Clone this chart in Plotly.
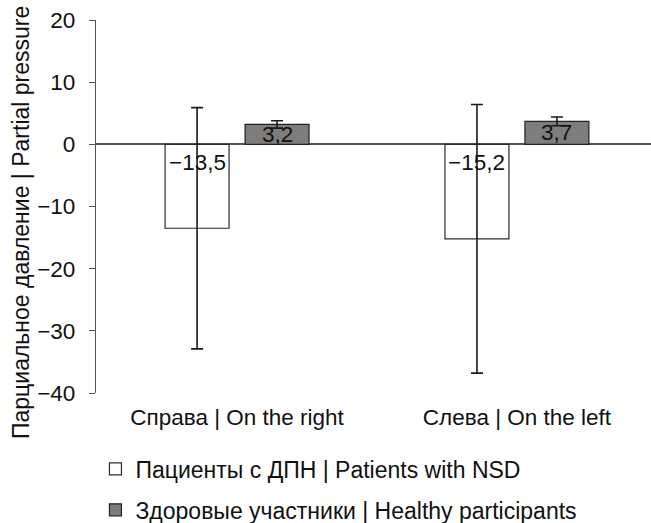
import plotly.graph_objects as go

categories = ["Справа | On the right", "Слева | On the left"]
series_names = ["Пациенты с ДПН | Patients with NSD", "Здоровые участники | Healthy participants"]
patients_values = [-13.5, -15.2]
patients_errors = [19.4, 21.6]
healthy_values = [3.2, 3.7]
healthy_errors = [0.6, 0.7]
y_ticks = [20, 10, 0, -10, -20, -30, -40]
y_title = "Парциальное давление | Partial pressure"

FONT = "Liberation Sans, Arial, sans-serif"
FS = 22.5

fig = go.Figure()
fig.add_trace(go.Bar(
    x=categories, y=patients_values, name=series_names[0],
    marker=dict(color="white", line=dict(color="#2a2a2a", width=1.2)),
    error_y=dict(type="data", array=patients_errors, visible=True,
                 color="#1a1a1a", thickness=1.6, width=6),
    legendgroup="a",
))
fig.add_trace(go.Bar(
    x=categories, y=healthy_values, name=series_names[1],
    marker=dict(color="#7d7d7d", line=dict(color="#222222", width=1.2)),
    error_y=dict(type="data", array=healthy_errors, visible=True,
                 color="#1a1a1a", thickness=1.6, width=6),
    legendgroup="b",
))

def fmt(v):
    return f"{v:.1f}".replace(".", ",").replace("-", "\u2212")

annotations = []
for vals, shift in ((patients_values, -40), (healthy_values, 40)):
    for cat, v in zip(categories, vals):
        if v < 0:
            annotations.append(dict(x=cat, y=0, xref="x", yref="y", text=fmt(v),
                                    showarrow=False, xshift=shift, yshift=-4,
                                    yanchor="top", font=dict(size=FS, color="#111111", family=FONT)))
        else:
            annotations.append(dict(x=cat, y=v / 2, xref="x", yref="y", text=fmt(v),
                                    showarrow=False, xshift=shift,
                                    yanchor="middle", font=dict(size=FS, color="#111111", family=FONT)))

annotations.append(dict(x=(21 - 96) / 555, y=(393 - 223) / 373, xref="paper", yref="paper",
                        text=y_title, textangle=-90, showarrow=False,
                        xanchor="center", yanchor="middle",
                        font=dict(size=23, color="#111111", family=FONT)))

fig.update_layout(
    width=651, height=523,
    margin=dict(l=96, r=0, t=20, b=130, autoexpand=False),
    paper_bgcolor="white", plot_bgcolor="white",
    font=dict(family=FONT, size=FS, color="#111111"),
    barmode="group", bargap=0.4286, bargroupgap=0.2,
    showlegend=True,
    legend=dict(orientation="v", x=-0.001, xanchor="left", y=-0.146, yanchor="top",
                font=dict(size=23, family=FONT), tracegroupgap=8,
                bgcolor="rgba(0,0,0,0)"),
    annotations=annotations,
)
fig.update_xaxes(range=[-0.504, 1.479], showline=False, ticks="", showgrid=False,
                 zeroline=False, ticklabelstandoff=8, tickfont=dict(size=FS))
fig.update_yaxes(range=[-40, 20], tickvals=y_ticks, showgrid=False,
                 showline=True, linecolor="#555555", linewidth=1.3,
                 ticks="outside", ticklen=6, tickcolor="#555555", tickwidth=1.3,
                 zeroline=True, zerolinecolor="#555555", zerolinewidth=1.5,
                 ticklabelstandoff=9, tickfont=dict(size=FS))

fig.write_html("out.html", config={"displayModeBar": False},
               post_script="document.body.style.margin='0';document.body.style.overflow='hidden';")
